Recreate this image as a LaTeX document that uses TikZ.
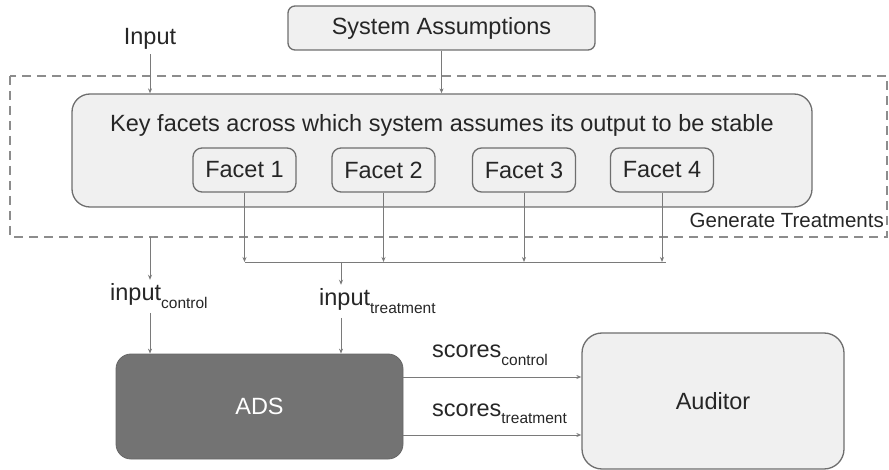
\documentclass[tikz,border=0pt]{standalone}
\usepackage{fontspec}
\setmainfont{Liberation Sans}
\usetikzlibrary{arrows.meta}
\definecolor{boxfill}{HTML}{F0F0F0}
\definecolor{boxline}{HTML}{6E6E6E}
\definecolor{adsfill}{HTML}{737373}
\definecolor{wire}{HTML}{7A7A7A}
\definecolor{dashcol}{HTML}{8C8C8C}
\newcommand\lowsub[1]{\raisebox{-7.5pt}{\fontsize{15.5}{15.5}\selectfont #1}}
\tikzset{
  box/.style={draw=boxline, line width=1.3pt, fill=boxfill, text=black!85},
  lbl/.style={inner sep=4pt, text=black!85},
  wireline/.style={draw=wire, line width=0.9pt},
  arr/.style={wireline, -{Stealth[length=5pt,width=4pt]}},
  frame/.style={draw=dashcol, line width=1.6pt, dash pattern=on 9pt off 6pt}
}
\begin{document}
\begin{tikzpicture}[x=1pt, y=-1pt, font=\fontsize{23.5}{27}\selectfont]
\useasboundingbox (0,0) rectangle (889,470);

% dashed region for treatment generation
\draw[frame] (10,76) rectangle (887,237);
\node[anchor=base east, font=\fontsize{20.5}{24}\selectfont, inner sep=0pt, text=black!85] (gen) at (884,228) {Generate Treatments};

% top row
\node[box, rounded corners=7pt, minimum width=307pt, minimum height=44pt] (sa) at (441.5,28) {System Assumptions};
\node[lbl, anchor=base] (in) at (150,45) {Input};

% facet container
\node[box, rounded corners=18pt, minimum width=740pt, minimum height=113pt] (key) at (442,150.5) {};
\node[lbl, anchor=base] (keytxt) at (442,132) {Key facets across which system assumes its output to be stable};
\node[box, rounded corners=9pt, minimum width=103pt, minimum height=44pt] (f1) at (244.5,170) {Facet 1};
\node[box, rounded corners=9pt, minimum width=103pt, minimum height=44pt] (f2) at (383.5,170) {Facet 2};
\node[box, rounded corners=9pt, minimum width=103pt, minimum height=44pt] (f3) at (524,170) {Facet 3};
\node[box, rounded corners=9pt, minimum width=103pt, minimum height=44pt] (f4) at (662,170) {Facet 4};

\draw[arr] (in.south) -- (in.south |- key.north);
\draw[arr] (sa.south) -- (sa.south |- key.north);

% merging facet outputs
\coordinate (m1) at (245,262);
\coordinate (m4) at (666,262);
\coordinate (mm) at (341,262);
\draw[wireline] (m1) -- (m4);
\draw[arr] (f1.south) -- (f1.south |- m1);
\draw[arr] (f2.south) -- (f2.south |- m1);
\draw[arr] (f3.south) -- (f3.south |- m1);
\draw[arr] (f4.south) -- (f4.south |- m1);

% inputs
\node[lbl, anchor=base west] (ictrl) at (106,301) {input\lowsub{control}};
\node[lbl, anchor=base west] (itreat) at (315,306) {input\lowsub{treatment}};
\coordinate (ctop) at (150,237);

% ADS and Auditor
\node[fill=adsfill, draw=adsfill!90!black, line width=0.8pt, rounded corners=15pt, minimum width=287pt, minimum height=105pt, text=white] (ads) at (259.5,406.5) {ADS};
\node[box, rounded corners=20pt, minimum width=262pt, minimum height=136pt] (aud) at (713,401) {Auditor};

\draw[arr] (ctop) -- (ctop |- ictrl.north);
\draw[arr] (ctop |- ictrl.south) -- (ctop |- ads.north);
\draw[arr] (mm) -- (mm |- itreat.north);
\draw[arr] (mm |- itreat.south) -- (mm |- ads.north);

% scores
\path (ads.east) ++(0,-29.5) coordinate (s1);
\path (ads.east) ++(0,28.5) coordinate (s2);
\draw[arr] (s1) -- (s1 -| aud.west);
\draw[arr] (s2) -- (s2 -| aud.west);
\node[lbl, anchor=base west] (sctrl) at (428,358) {scores\lowsub{control}};
\node[lbl, anchor=base west] (streat) at (428,416) {scores\lowsub{treatment}};
\end{tikzpicture}
\end{document}
